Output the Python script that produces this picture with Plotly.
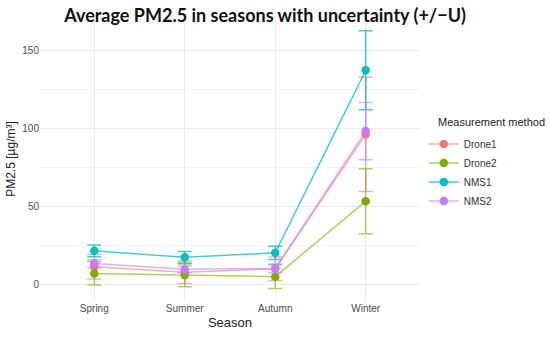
import plotly.graph_objects as go

seasons = ["Spring", "Summer", "Autumn", "Winter"]
methods = ["Drone1", "Drone2", "NMS1", "NMS2"]

drone1 = [11.3, 7.7, 10.0, 96.2]
drone1_u = [7.9, 7.2, 7.5, 36.7]
drone2 = [7.0, 5.8, 4.9, 53.3]
drone2_u = [7.5, 7.3, 7.6, 20.8]
nms1 = [21.5, 17.3, 20.2, 137.3]
nms1_u = [3.8, 3.7, 4.2, 25.3]
nms2 = [13.4, 9.6, 10.2, 98.3]
nms2_u = [2.4, 2.2, 2.8, 18.4]

values = [drone1, drone2, nms1, nms2]
uncert = [drone1_u, drone2_u, nms1_u, nms2_u]
colors = ["#F8766D", "#7CAE00", "#00BFC4", "#C77CFF"]
light = ["rgba(248,118,109,0.6)", "rgba(124,174,0,0.6)", "rgba(0,191,196,0.75)", "rgba(199,124,255,0.6)"]

fig = go.Figure()
for name, v, u, c, lc in zip(methods, values, uncert, colors, light):
    fig.add_trace(go.Scatter(
        x=seasons, y=v, name=name, mode="lines+markers",
        line=dict(color=lc, width=1.5),
        marker=dict(color=c, size=8.5),
        error_y=dict(type="data", array=u, visible=True, color=lc, thickness=1.5, width=7),
    ))

font_main = "Liberation Sans, Arial, sans-serif"
fig.update_layout(
    width=550, height=337,
    margin=dict(l=40, r=130, t=17, b=36, autoexpand=False),
    paper_bgcolor="white", plot_bgcolor="white",
    font=dict(family=font_main, size=11, color="#333333"),
    title=dict(text="<b>Average PM2.5 in seasons with uncertainty (+/−U)</b>",
               font=dict(family="Lato, sans-serif", size=18, color="#111111"),
               x=0.482, xref="container", xanchor="center",
               y=0.953, yref="container", yanchor="middle"),
    legend=dict(font=dict(size=10, color="#333333"),
                x=1.01, xanchor="left", y=0.604, yanchor="top",
                itemwidth=30, bgcolor="rgba(0,0,0,0)", tracegroupgap=0),
    showlegend=True,
    annotations=[dict(text="Measurement method", xref="paper", yref="paper",
                      x=1.042, y=0.632, xanchor="left", yanchor="middle",
                      showarrow=False, font=dict(size=11, color="#222222"))],
)
fig.update_xaxes(
    type="category", range=[-0.6, 3.6], automargin=False,
    showgrid=True, gridcolor="#EBEBEB", gridwidth=1,
    zeroline=False, showline=False, ticks="",
    tickfont=dict(size=10, color="#4D4D4D"),
    title=dict(text="Season", font=dict(size=13, color="#222222"), standoff=4),
)
fig.update_yaxes(
    range=[-10.7, 171.5], tickvals=[0, 50, 100, 150], automargin=False,
    showgrid=True, gridcolor="#EBEBEB", gridwidth=1,
    minor=dict(tickvals=[25, 75, 125], showgrid=True, gridcolor="#F3F3F3", gridwidth=0.6),
    zeroline=False, showline=False, ticks="",
    tickfont=dict(size=10, color="#4D4D4D"),
    title=dict(text="PM2.5 [µg/m³]", font=dict(size=12, color="#222222"), standoff=4),
)

fig.write_html("out.html", config={"displayModeBar": False},
               post_script="document.body.style.margin='0';")
